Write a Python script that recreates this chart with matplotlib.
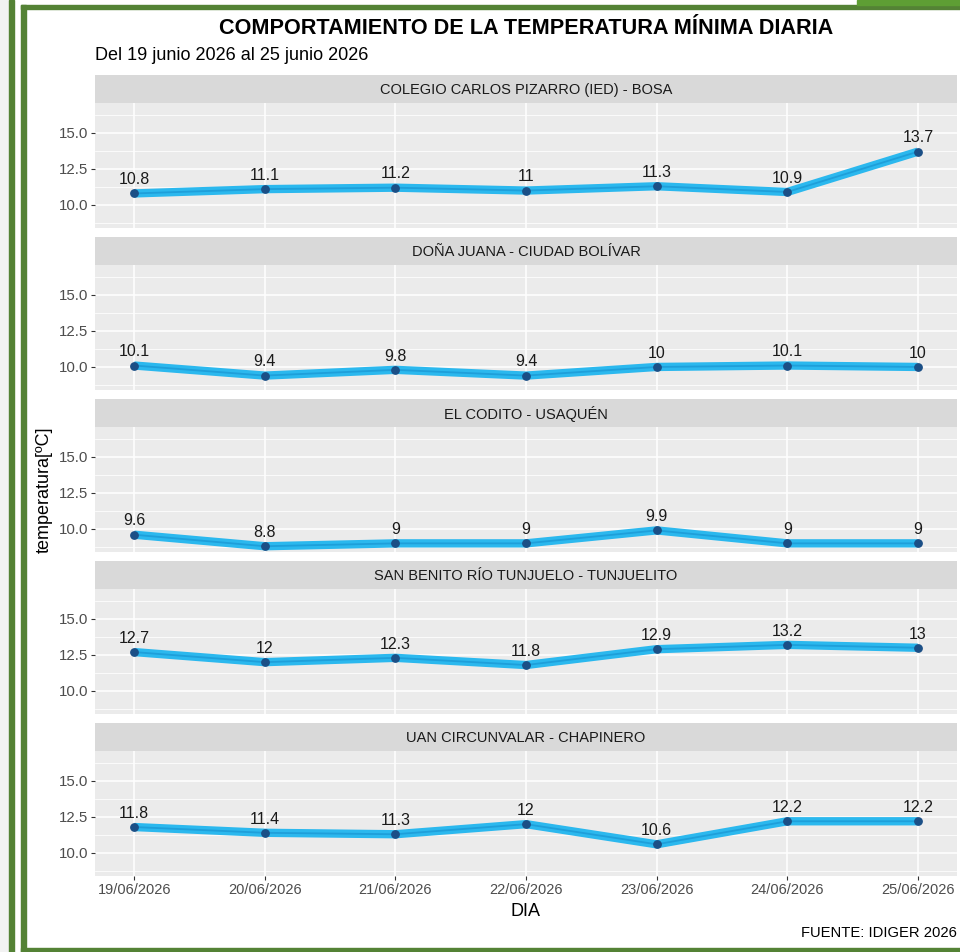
import matplotlib.pyplot as plt
from matplotlib.patches import Rectangle

plt.rcParams["font.family"] = ["Liberation Sans", "DejaVu Sans"]

# Data
fechas = ["19/06/2026", "20/06/2026", "21/06/2026", "22/06/2026",
          "23/06/2026", "24/06/2026", "25/06/2026"]
estaciones = [
    "COLEGIO CARLOS PIZARRO (IED) - BOSA",
    "DOÑA JUANA - CIUDAD BOLÍVAR",
    "EL CODITO - USAQUÉN",
    "SAN BENITO RÍO TUNJUELO - TUNJUELITO",
    "UAN CIRCUNVALAR - CHAPINERO",
]
bosa = [10.8, 11.1, 11.2, 11.0, 11.3, 10.9, 13.7]
dona_juana = [10.1, 9.4, 9.8, 9.4, 10.0, 10.1, 10.0]
el_codito = [9.6, 8.8, 9.0, 9.0, 9.9, 9.0, 9.0]
san_benito = [12.7, 12.0, 12.3, 11.8, 12.9, 13.2, 13.0]
uan = [11.8, 11.4, 11.3, 12.0, 10.6, 12.2, 12.2]
series = [bosa, dona_juana, el_codito, san_benito, uan]

W, H = 960, 952
fig = plt.figure(figsize=(W / 100, H / 100), dpi=100)
fig.patch.set_facecolor("white")


def px(x, y, w, h):
    # pixel box (top-left origin) -> figure fraction
    return [x / W, 1 - (y + h) / H, w / W, h / H]


verde = "#548235"
# green frame decorations
fig.add_artist(Rectangle((0, 0), 9 / W, 1, transform=fig.transFigure, color="#f2f2f2", zorder=0))
fig.add_artist(Rectangle((9 / W, 0), 5 / W, 1, transform=fig.transFigure, color=verde, zorder=5))
fig.add_artist(Rectangle((21 / W, 0), 5 / W, 1 - 5 / H, transform=fig.transFigure, color=verde, zorder=5))
fig.add_artist(Rectangle((21 / W, 1 - 9 / H), 1 - 21 / W, 4 / H, transform=fig.transFigure, color=verde, zorder=5))
fig.add_artist(Rectangle((857 / W, 1 - 5 / H), 1 - 857 / W, 5 / H, transform=fig.transFigure, color="#5e9e34", zorder=5))
fig.add_artist(Rectangle((21 / W, 0), 1 - 21 / W, 4 / H, transform=fig.transFigure, color=verde, zorder=5))

px_x0, px_w = 95, 862
tops = [103, 265, 427, 589, 751]
panel_h = 125
strip_h = 28
x = list(range(len(fechas)))

for i, (nombre, vals) in enumerate(zip(estaciones, series)):
    top = tops[i]
    # strip
    sax = fig.add_axes(px(px_x0, top - strip_h, px_w, strip_h))
    sax.set_facecolor("#d9d9d9")
    sax.set_xticks([])
    sax.set_yticks([])
    for s in sax.spines.values():
        s.set_visible(False)
    sax.text(0.5, 0.48, nombre, ha="center", va="center", fontsize=10.5,
             color="#1a1a1a", transform=sax.transAxes)

    ax = fig.add_axes(px(px_x0, top, px_w, panel_h))
    ax.set_facecolor("#ebebeb")
    for s in ax.spines.values():
        s.set_visible(False)
    ax.set_xlim(-0.3, 6.3)
    ax.set_ylim(8.4, 17.08)
    ax.set_yticks([10, 12.5, 15])
    ax.set_yticks([8.75, 11.25, 13.75, 16.25], minor=True)
    ax.set_yticklabels(["10.0", "12.5", "15.0"])
    ax.set_xticks(x)
    ax.grid(True, which="major", color="white", lw=1.1)
    ax.grid(True, which="minor", axis="y", color="white", lw=0.55)
    ax.set_axisbelow(True)
    ax.tick_params(axis="y", which="major", length=3, color="#333333",
                   labelsize=10.8, labelcolor="#4d4d4d", pad=2)
    ax.tick_params(axis="y", which="minor", length=0)
    if i == len(estaciones) - 1:
        ax.set_xticklabels(fechas)
        ax.tick_params(axis="x", length=3, color="#333333", labelsize=10.5,
                       labelcolor="#4d4d4d", pad=2)
    else:
        ax.set_xticklabels([])
        ax.tick_params(axis="x", length=0)

    ax.plot(x, vals, color="#2bb8ee", lw=6, solid_capstyle="butt", zorder=2)
    ax.plot(x, vals, color="#1e9fda", lw=1.3, zorder=3)
    ax.scatter(x, vals, s=28, color="#1b4f86", zorder=4)
    for xi, v in zip(x, vals):
        ax.annotate(f"{v:g}", (xi, v), xytext=(0, 4.5), textcoords="offset points",
                    ha="center", va="bottom", fontsize=11.5, color="#1a1a1a")

fig.text(526 / W, 1 - 28 / H, "COMPORTAMIENTO DE LA TEMPERATURA MÍNIMA DIARIA",
         ha="center", va="center", fontsize=15.6, fontweight="bold", color="black")
fig.text(95 / W, 1 - 56 / H, "Del 19 junio 2026 al 25 junio 2026",
         ha="left", va="center", fontsize=13, color="black")
fig.text(44 / W, 1 - 490 / H, "temperatura[ºC]", rotation=90,
         ha="center", va="center", fontsize=13, color="black")
fig.text(526 / W, 1 - 911 / H, "DIA", ha="center", va="center",
         fontsize=13, color="black")
fig.text(957 / W, 1 - 933 / H, "FUENTE: IDIGER 2026", ha="right", va="center",
         fontsize=10.6, color="black")

fig.savefig("out.png", dpi=100)
